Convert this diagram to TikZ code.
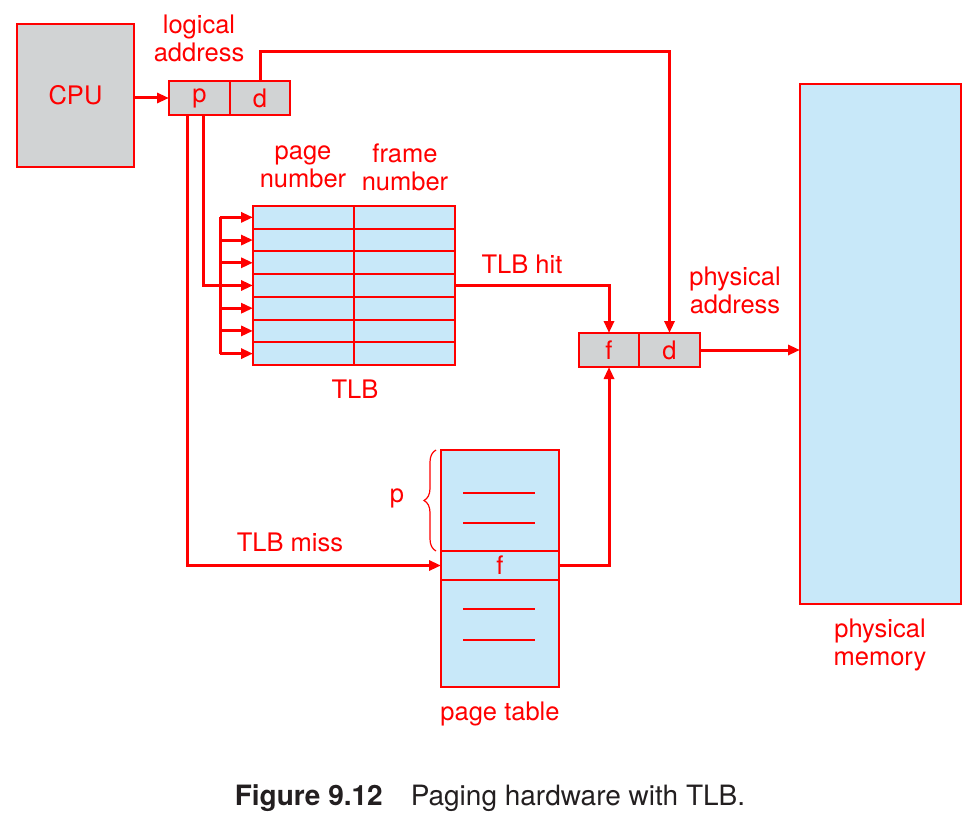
\documentclass[tikz,border=0pt]{standalone}
\usepackage{fontspec}
\setmainfont{TeX Gyre Heros}
\usepackage{xcolor}
\usetikzlibrary{positioning, arrows.meta, decorations.pathreplacing}

\definecolor{hwred}{HTML}{FF0000}
\definecolor{hwgray}{HTML}{D1D3D4}
\definecolor{hwblue}{HTML}{C8E8F9}
\definecolor{hwink}{HTML}{231F20}

\tikzset{
  box/.style = {draw = hwred, line width = 1.5pt, inner sep = 0pt, outer sep = 0pt, text = hwred},
  graybox/.style = {box, fill = hwgray},
  bluebox/.style = {box, fill = hwblue},
  cell/.style = {fill = hwblue, inner sep = 0pt, outer sep = 0pt, minimum width = 101pt, minimum height = 22.71pt},
  conn/.style = {draw = hwred, line width = 3pt},
  arr/.style = {conn, -{Triangle[length=12pt, width=10pt]}},
  lbl/.style = {text = hwred, align = center, inner sep = 0pt}
}

\begin{document}
\begin{tikzpicture}[x = 1pt, y = -1pt, font = \fontsize{25.5}{28}\selectfont]

  \useasboundingbox (0,0) rectangle (976,832);

  % Draw CPU
  \node[graybox, minimum width = 117pt, minimum height = 143pt] (cpu) at (75.5,95.5) {CPU};

  % Draw logical address
  \node[graybox, minimum width = 61pt, minimum height = 34pt] (lp) at (199.5,98) {p};
  \node[graybox, minimum width = 60pt, minimum height = 34pt, right = 0pt of lp] (ld) {d};
  \node[lbl] (laddr) at (199,38) {logical\\address};

  % Draw TLB
  \foreach \i in {1,...,7} {
    \node[cell] (pg\i) at (303.5,{206 + 22.71*\i - 11.355}) {};
    \node[cell, right = 0pt of pg\i] (fr\i) {};
  }
  \foreach \i in {1,...,7} {
    \draw[hwred, line width = 2pt] (pg\i.north west) rectangle (pg\i.south east);
    \draw[hwred, line width = 2pt] (fr\i.north west) rectangle (fr\i.south east);
  }
  \node[lbl] (pghead) at (303,167) {page\\number};
  \node[lbl] (frhead) at (405,167) {frame\\number};
  \node[lbl] (tlb) at (355,389) {TLB};

  % Draw page table
  \node[bluebox, minimum width = 118pt, minimum height = 237pt] (pt) at (500,568.5) {};
  \node[bluebox, minimum width = 118pt, minimum height = 29pt] (ptf) at (500,565.5) {f};
  \draw[hwred, line width = 2.5pt] (ptf.north west) -- (ptf.north east);
  \draw[hwred, line width = 2.5pt] (463,493) -- (535,493);
  \draw[hwred, line width = 1.2pt] (463,523) -- (535,523);
  \draw[hwred, line width = 2.5pt] (463,609) -- (535,609);
  \draw[hwred, line width = 1.2pt] (463,640) -- (535,640);
  \draw[hwred, line width = 1.2pt, decorate, decoration = {brace, amplitude = 12pt}] (436,551) -- (436,450);
  \node[lbl] (pbr) at (397,498) {p};
  \node[lbl] (ptlbl) at (500,714) {page table};

  % Draw physical address
  \node[graybox, minimum width = 60pt, minimum height = 34pt] (pf) at (609,350) {f};
  \node[graybox, minimum width = 61pt, minimum height = 34pt, right = 0pt of pf] (pd) {d};
  \node[lbl] (paddr) at (735,290) {physical\\address};

  % Draw physical memory
  \node[bluebox, minimum width = 161pt, minimum height = 520pt] (mem) at (880.5,344) {};
  \node[lbl] (memlbl) at (880,645) {physical\\memory};

  % Connectors
  \coordinate (tapA) at ([xshift = -12pt]lp.south);
  \coordinate (tapB) at ([xshift = 4pt]lp.south);
  \coordinate (bus) at (220,0);

  \draw[arr] (cpu.east |- lp.west) -- (lp.west);
  \draw[arr] (ld.north) -- ++(0,-29) -| (pd.north);
  \draw[arr] (tapA) |- (ptf.west);
  \draw[arr] (tapB) |- (pg4.west);
  \draw[conn] (pg1.west -| bus) -- (pg7.west -| bus);
  \foreach \i in {1,2,3,5,6,7} {
    \draw[arr] (pg\i.west -| bus) -- (pg\i.west);
  }
  \draw[arr] (fr4.east) -| (pf.north);
  \draw[arr] (ptf.east) -| (pf.south);
  \draw[arr] (pd.east) -- (mem.west |- pd.east);
  \node[lbl] (miss) at (290,542) {TLB miss};
  \node[lbl] (hit) at (522,264) {TLB hit};

  % Caption
  \node[inner sep = 0pt, text = hwink, font = \fontsize{28}{32}\selectfont] (cap) at (490,798) {\textbf{Figure 9.12}\quad Paging hardware with TLB.};

\end{tikzpicture}
\end{document}
